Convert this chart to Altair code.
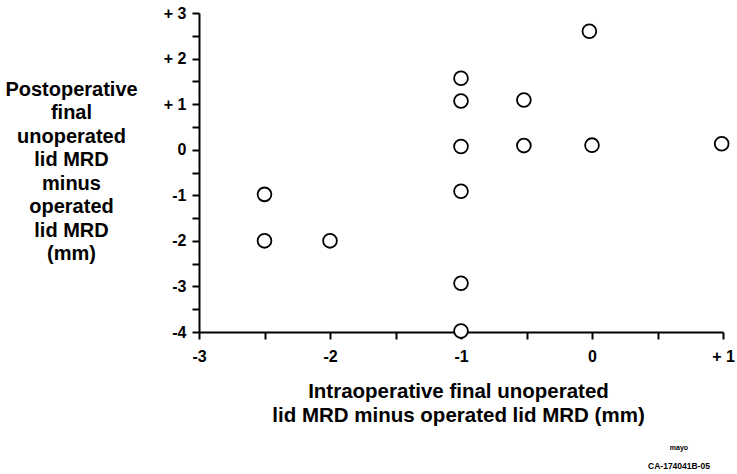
import altair as alt
import pandas as pd

# Data
x_vals = [-2.5, -2.5, -2.0, -1.0, -1.0, -1.0, -1.0, -1.0, -1.0, -0.52, -0.52, -0.02, 0.0, 0.99]
y_vals = [-0.98, -2.0, -2.0, 1.57, 1.07, 0.07, -0.91, -2.93, -3.98, 1.09, 0.09, 2.6, 0.1, 0.13]

x_ticks = [-3, -2.5, -2, -1.5, -1, -0.5, 0, 0.5, 1]
y_ticks = [-4, -3.5, -3, -2.5, -2, -1.5, -1, -0.5, 0, 0.5, 1, 1.5, 2, 2.5, 3]

x_title = ["Intraoperative final unoperated", "lid MRD minus operated lid MRD (mm)"]
y_title = ["Postoperative", "final", "unoperated", "lid MRD", "minus", "operated", "lid MRD", "(mm)"]

df = pd.DataFrame({"x": x_vals, "y": y_vals})

FONT = "Liberation Sans"
label_expr = "datum.value % 1 != 0 ? '' : (datum.value > 0 ? '+ ' + datum.value : '' + datum.value)"

points = alt.Chart(df).mark_point(
    shape="circle", size=190, filled=False, fill="white", fillOpacity=1,
    stroke="black", strokeWidth=1.8, opacity=1, clip=False
).encode(
    x=alt.X("x:Q", scale=alt.Scale(domain=[-3, 1], nice=False, zero=False),
            axis=alt.Axis(values=x_ticks, labelExpr=label_expr, grid=False,
                          domainColor="black", domainWidth=2, tickColor="black",
                          tickWidth=2, tickSize=7, labelPadding=9,
                          labelFont=FONT, labelFontSize=16, labelFontWeight="bold",
                          labelColor="black", labelFlush=False,
                          title=x_title, titleFont=FONT, titleFontSize=20.5,
                          titleFontWeight="bold", titleColor="black",
                          titleLineHeight=24, titleAlign="center",
                          titleBaseline="alphabetic", titleX=259, titleY=65)),
    y=alt.Y("y:Q", scale=alt.Scale(domain=[-4, 3], nice=False, zero=False),
            axis=alt.Axis(values=y_ticks, labelExpr=label_expr, grid=False,
                          domainColor="black", domainWidth=2, tickColor="black",
                          tickWidth=2, tickSize=7, labelPadding=6,
                          labelFont=FONT, labelFontSize=16, labelFontWeight="bold",
                          labelColor="black", labelFlush=False,
                          title=y_title, titleFont=FONT, titleFontSize=20,
                          titleFontWeight="bold", titleColor="black",
                          titleLineHeight=23.5, titleAngle=0, titleAlign="center",
                          titleBaseline="alphabetic", titleX=-128, titleY=82)),
)

logo = alt.Chart(pd.DataFrame({"t": ["mayo"]})).mark_text(
    font=FONT, fontSize=7, fontWeight="bold", color="black", align="center"
).encode(text="t:N", x=alt.value(480), y=alt.value(435))

code = alt.Chart(pd.DataFrame({"t": ["CA-174041B-05"]})).mark_text(
    font=FONT, fontSize=8.5, fontWeight="bold", color="black", align="center"
).encode(text="t:N", x=alt.value(480), y=alt.value(453))

chart = alt.layer(points, logo, code).properties(
    width=524, height=319,
    autosize=alt.AutoSizeParams(type="none"),
    padding={"left": 199, "top": 13, "right": 14, "bottom": 142},
    background="white",
).configure_view(stroke=None)

chart.save("out.html", embed_options={"renderer": "svg", "actions": False})
